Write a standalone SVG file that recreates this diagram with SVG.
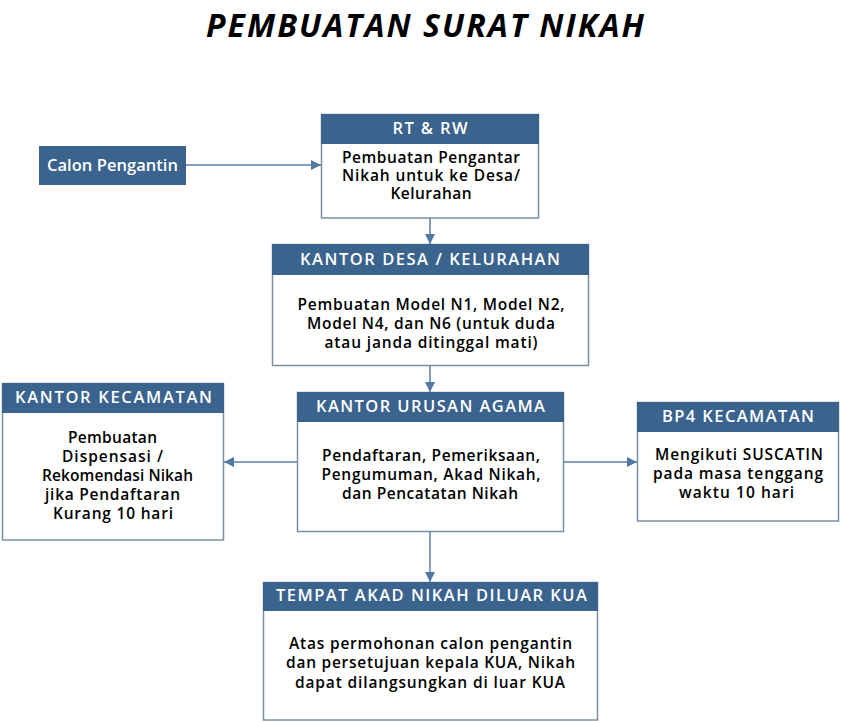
<svg xmlns="http://www.w3.org/2000/svg" width="841" height="722" viewBox="0 0 841 722">
<defs>
<marker id="ah" viewBox="0 0 10 10" refX="10" refY="5" markerWidth="10" markerHeight="10" markerUnits="userSpaceOnUse" orient="auto">
<path d="M0,0 L10,5 L0,10 z" fill="#4f78a3"/>
</marker>
</defs>
<style>
.title{font-family:"Open Sans","DejaVu Sans",sans-serif;font-weight:700;font-style:italic;font-size:32px;fill:#000;}
.hd{fill:#3a638e;}
.bd{fill:#fff;stroke:#7b8fa5;stroke-width:1.5;}
.ht{font-family:"Open Sans","DejaVu Sans",sans-serif;font-weight:600;font-size:16.5px;fill:#fff;text-anchor:middle;}
.bt{font-family:"Open Sans","DejaVu Sans",sans-serif;font-weight:600;font-size:15.5px;fill:#000;text-anchor:middle;}
.cn{stroke:#5b80a8;stroke-width:1.5;fill:none;marker-end:url(#ah);}
</style>
<rect width="841" height="722" fill="#fff"/>
<text class="title" x="425" y="37" text-anchor="middle" textLength="438">PEMBUATAN SURAT NIKAH</text>

<g id="calon">
<rect class="hd" x="39" y="146" width="147" height="39"/>
<text class="ht" x="112.5" y="171" textLength="131">Calon Pengantin</text>
</g>

<g id="rtrw">
<rect class="bd" x="321.5" y="114.5" width="217" height="103.5"/>
<rect class="hd" x="321" y="114" width="218" height="30"/>
<text class="ht" x="430" y="134" textLength="75">RT &amp; RW</text>
<text class="bt" x="431" y="163" textLength="178">Pembuatan Pengantar</text>
<text class="bt" x="431" y="181" textLength="178">Nikah untuk ke Desa/</text>
<text class="bt" x="431" y="199" textLength="81">Kelurahan</text>
</g>

<g id="desa">
<rect class="bd" x="272.5" y="244.5" width="316" height="121"/>
<rect class="hd" x="272" y="244" width="317" height="31"/>
<text class="ht" x="430" y="265" textLength="260">KANTOR DESA / KELURAHAN</text>
<text class="bt" x="431" y="310" textLength="267">Pembuatan Model N1, Model N2,</text>
<text class="bt" x="431" y="329" textLength="248">Model N4, dan N6 (untuk duda</text>
<text class="bt" x="431" y="348" textLength="213">atau janda ditinggal mati)</text>
</g>

<g id="kua">
<rect class="bd" x="297.5" y="392.5" width="266" height="139"/>
<rect class="hd" x="297" y="392" width="267" height="30"/>
<text class="ht" x="430.5" y="412" textLength="229">KANTOR URUSAN AGAMA</text>
<text class="bt" x="431" y="461" textLength="218">Pendaftaran, Pemeriksaan,</text>
<text class="bt" x="431" y="480" textLength="219">Pengumuman, Akad Nikah,</text>
<text class="bt" x="430" y="499" textLength="176">dan Pencatatan Nikah</text>
</g>

<g id="kecamatan">
<rect class="bd" x="2.5" y="383.5" width="221" height="156.5"/>
<rect class="hd" x="2" y="383" width="222" height="30"/>
<text class="ht" x="113.5" y="403" textLength="197">KANTOR KECAMATAN</text>
<text class="bt" x="112.5" y="443" textLength="89">Pembuatan</text>
<text class="bt" x="112.5" y="462" textLength="101">Dispensasi /</text>
<text class="bt" x="117.5" y="481" textLength="151">Rekomendasi Nikah</text>
<text class="bt" x="112.5" y="500" textLength="135">jika Pendaftaran</text>
<text class="bt" x="113" y="519" textLength="120">Kurang 10 hari</text>
</g>

<g id="bp4">
<rect class="bd" x="637.5" y="402.5" width="201" height="118.5"/>
<rect class="hd" x="637" y="402" width="202" height="30"/>
<text class="ht" x="738" y="422" textLength="152">BP4 KECAMATAN</text>
<text class="bt" x="739" y="460" textLength="168">Mengikuti SUSCATIN</text>
<text class="bt" x="738" y="479" textLength="170">pada masa tenggang</text>
<text class="bt" x="736.5" y="498" textLength="115">waktu 10 hari</text>
</g>

<g id="tempat">
<rect class="bd" x="263.5" y="582.5" width="334" height="137.5"/>
<rect class="hd" x="263" y="582" width="335" height="29"/>
<text class="ht" x="431.5" y="601" textLength="311">TEMPAT AKAD NIKAH DILUAR KUA</text>
<text class="bt" x="430.5" y="649" textLength="283">Atas permohonan calon pengantin</text>
<text class="bt" x="430.5" y="668" textLength="289">dan persetujuan kepala KUA, Nikah</text>
<text class="bt" x="430" y="688" textLength="270">dapat dilangsungkan di luar KUA</text>
</g>

<g id="connectors">
<line class="cn" x1="186" y1="165" x2="321" y2="165"/>
<line class="cn" x1="430" y1="218" x2="430" y2="244"/>
<line class="cn" x1="430" y1="366" x2="430" y2="392"/>
<line class="cn" x1="297" y1="462" x2="224" y2="462"/>
<line class="cn" x1="564" y1="462" x2="637" y2="462"/>
<line class="cn" x1="430" y1="532" x2="430" y2="582"/>
</g>
</svg>
